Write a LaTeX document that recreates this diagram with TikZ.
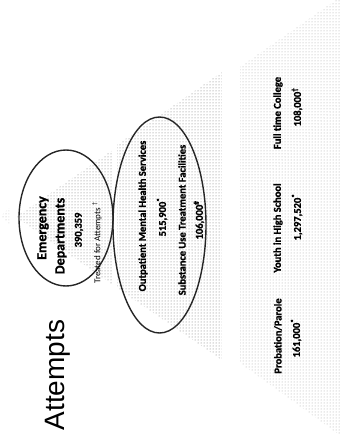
\documentclass[tikz,border=0pt]{standalone}
\usepackage{fontspec}
\setmainfont{Carlito}[BoldFeatures={FakeBold=1.2}]
\newfontfamily\arialfont{Liberation Sans}
\usetikzlibrary{patterns}
\tikzset{
  tier/.style={pattern=dots, pattern color=black!55},
  ring/.style={draw=black!85, line width=1.4pt},
  lbl/.style={rotate=90, inner sep=0pt, font=\bfseries\fontsize{10.5}{12}\selectfont},
  biglbl/.style={lbl, font=\bfseries\fontsize{14}{16}\selectfont},
}
\begin{document}
\begin{tikzpicture}[x=1pt,y=-1pt]
      \useasboundingbox (0,0) rectangle (341,442);
      % pyramid tiers
      \path[tier, pattern color=black!30] (1,216) -- (9,208) -- (9,224) -- cycle;
      \path[tier] (16,217) -- (113,150) -- (113,285) -- cycle;
      \path[tier] (117,145) -- (222,72) -- (222,360) -- (117,288) -- cycle;
      \path[tier, pattern color=black!35] (240,67) -- (336,0) -- (341,0) -- (341,436) -- (240,363) -- cycle;
      % rings
      \draw[ring] (66,218) ellipse (47 and 68);
      \draw[ring] (159.5,225) ellipse (46.5 and 108);
      % labels
      \draw
        (58,375) node[rotate=90, font=\arialfont\fontsize{28}{30}\selectfont] (att) {Attempts}
        (43,228) node[biglbl] (ed1) {Emergency}
        (61,236) node[biglbl] (ed2) {Departments}
        (79,230) node[lbl] (ed3) {390,359}
        (97,243) node[lbl, font=\fontsize{9}{10}\selectfont] (ed4) {Treated for Attempts \textsuperscript{†}}
        (143,216) node[lbl] (op1) {Outpatient Mental Health Services}
        (162,217) node[lbl] (op2) {515,900\textsuperscript{*}}
        (182,220) node[lbl] (op3) {Substance Use Treatment Facilities}
        (199,220) node[lbl] (op4) {106,000\textsuperscript{\#}}
        (278,336) node[lbl] (pp1) {Probation/Parole}
        (296,338) node[lbl] (pp2) {161,000\textsuperscript{*}}
        (278,228) node[lbl] (yh1) {Youth in High School}
        (297,217) node[lbl] (yh2) {1,297,520\textsuperscript{*}}
        (278,113) node[lbl] (fc1) {Full time College}
        (297,107) node[lbl] (fc2) {108,000\textsuperscript{†}};
    \end{tikzpicture}
\end{document}
